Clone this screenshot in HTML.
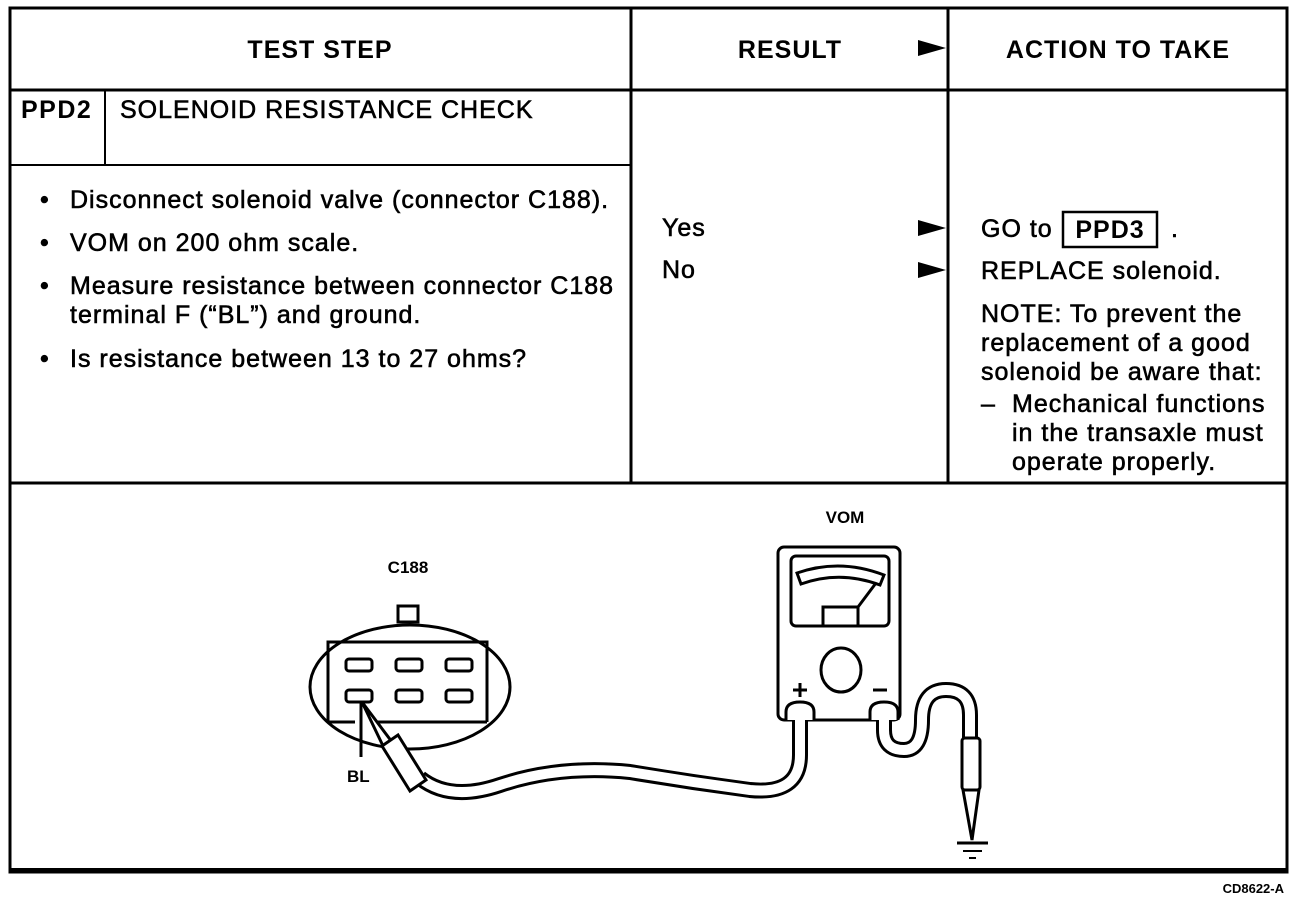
<!DOCTYPE html>
<html><head><meta charset="utf-8"><style>
html,body{margin:0;padding:0;background:#fff}
svg{display:block}
text{font-family:"Liberation Sans",Arial,sans-serif;fill:#000}
.b{font-weight:bold}
.t{font-size:25px;letter-spacing:1px;stroke:#000;stroke-width:0.6}
.h{font-size:25px;font-weight:bold;letter-spacing:1px}
</style></head><body>
<svg width="1312" height="902" viewBox="0 0 1312 902" xmlns="http://www.w3.org/2000/svg">
<g fill="none" stroke="#000">
<rect x="10" y="8" width="1277" height="864" stroke-width="3"/>
<line x1="10" y1="870" x2="1287" y2="870" stroke-width="4"/>
<line x1="10" y1="90" x2="1287" y2="90" stroke-width="3"/>
<line x1="10" y1="483" x2="1287" y2="483" stroke-width="3"/>
<line x1="631" y1="8" x2="631" y2="483" stroke-width="3"/>
<line x1="948" y1="8" x2="948" y2="483" stroke-width="3"/>
<line x1="10" y1="165" x2="631" y2="165" stroke-width="2"/>
<line x1="105" y1="90" x2="105" y2="165" stroke-width="2"/>
<rect x="1063" y="212" width="94" height="35" stroke-width="2.5"/>
</g>
<g fill="#000">
<polygon points="918,40 946,48 918,56"/>
<polygon points="918,220 946,228 918,236"/>
<polygon points="918,262 946,270 918,278"/>
</g>
<text x="320" y="58" text-anchor="middle" class="h">TEST STEP</text>
<text x="790" y="58" text-anchor="middle" class="h">RESULT</text>
<text x="1118" y="58" text-anchor="middle" class="h">ACTION TO TAKE</text>
<text x="21" y="118" class="h" style="letter-spacing:1.5px">PPD2</text>
<text x="120" y="118" class="t">SOLENOID RESISTANCE CHECK</text>
<g class="t">
<text x="40" y="208">•</text><text x="70" y="208">Disconnect solenoid valve (connector C188).</text>
<text x="40" y="251">•</text><text x="70" y="251">VOM on 200 ohm scale.</text>
<text x="40" y="294">•</text><text x="70" y="294">Measure resistance between connector C188</text>
<text x="70" y="323">terminal F (“BL”) and ground.</text>
<text x="40" y="367">•</text><text x="70" y="367">Is resistance between 13 to 27 ohms?</text>
<text x="662" y="236">Yes</text>
<text x="662" y="278">No</text>
<text x="981" y="237">GO to</text>
<text x="1171" y="237">.</text>
<text x="981" y="279">REPLACE solenoid.</text>
<text x="981" y="322">NOTE: To prevent the</text>
<text x="981" y="351">replacement of a good</text>
<text x="981" y="380">solenoid be aware that:</text>
<text x="981" y="412">–</text><text x="1012" y="412">Mechanical functions</text>
<text x="1012" y="441">in the transaxle must</text>
<text x="1012" y="470">operate properly.</text>
</g>
<text x="1110" y="238" text-anchor="middle" class="h">PPD3</text>
<!-- diagram -->
<text x="845" y="523" text-anchor="middle" class="b" font-size="17">VOM</text>
<text x="408" y="573" text-anchor="middle" class="b" font-size="17">C188</text>
<text x="347" y="782" class="b" font-size="17">BL</text>
<text x="1284" y="893" text-anchor="end" class="b" font-size="13">CD8622-A</text>
<g fill="none" stroke="#000" stroke-width="3">
<ellipse cx="410" cy="687" rx="100" ry="62"/>
<rect x="398" y="606" width="20" height="16" fill="#fff"/>
<path d="M328 722 L328 642 L487 642 L487 722" />
<line x1="328" y1="722" x2="355" y2="722"/>
<line x1="375" y1="722" x2="487" y2="722"/>
<rect x="346" y="659" width="26" height="12" rx="3"/>
<rect x="396" y="659" width="26" height="12" rx="3"/>
<rect x="446" y="659" width="26" height="12" rx="3"/>
<rect x="346" y="690" width="26" height="12" rx="3"/>
<rect x="396" y="690" width="26" height="12" rx="3"/>
<rect x="446" y="690" width="26" height="12" rx="3"/>
<line x1="361" y1="702" x2="361" y2="757"/>
<!-- VOM -->
<rect x="778" y="547" width="122" height="173" rx="6" fill="#fff"/>
<rect x="791" y="556" width="98" height="70" rx="5"/>
<path d="M797 573 Q840 558 884 575 L880 585 Q840 570 801 584 Z"/>
<rect x="823" y="607" width="35" height="19"/>
<line x1="858" y1="607" x2="876" y2="583"/>
<ellipse cx="841" cy="670" rx="20" ry="22"/>
<path d="M793 690 h14 M800 683 v14 M873 690 h14"/>
</g>
<!-- cables -->
<g fill="none" stroke-linecap="butt">
<path d="M800 706 L800 755 Q800 795 750 790 Q690 782 630 772 Q560 765 500 785 Q450 802 420 778" stroke="#000" stroke-width="16"/>
<path d="M800 706 L800 755 Q800 795 750 790 Q690 782 630 772 Q560 765 500 785 Q450 802 420 778" stroke="#fff" stroke-width="10"/>
<path d="M884 706 L884 730 Q884 750 904 750 Q922 750 922 720 Q922 690 946 690 Q970 690 970 715 L970 740" stroke="#000" stroke-width="16"/>
<path d="M884 706 L884 730 Q884 750 904 750 Q922 750 922 720 Q922 690 946 690 Q970 690 970 715 L970 740" stroke="#fff" stroke-width="10"/>
</g>
<g fill="#fff" stroke="#000" stroke-width="3">
<path d="M786 720 L786 712 Q786 702 800 702 Q814 702 814 712 L814 720"/>
<path d="M870 720 L870 712 Q870 702 884 702 Q898 702 898 712 L898 720"/>
<!-- probe + -->
<path d="M362 702 L392 742 L384 748 Z"/>
<path d="M382 746 L398 735 L426 780 L410 791 Z"/>
<!-- ground probe -->
<rect x="962" y="738" width="18" height="52" rx="3"/>
<path d="M963 790 L972 840 L979 790 Z"/>
</g>
<g stroke="#000" stroke-width="3">
<line x1="957" y1="843" x2="988" y2="843"/>
<line x1="963" y1="851" x2="982" y2="851" stroke-width="2"/>
<line x1="969" y1="858" x2="976" y2="858" stroke-width="2"/>
</g>
</svg>
</body></html>
